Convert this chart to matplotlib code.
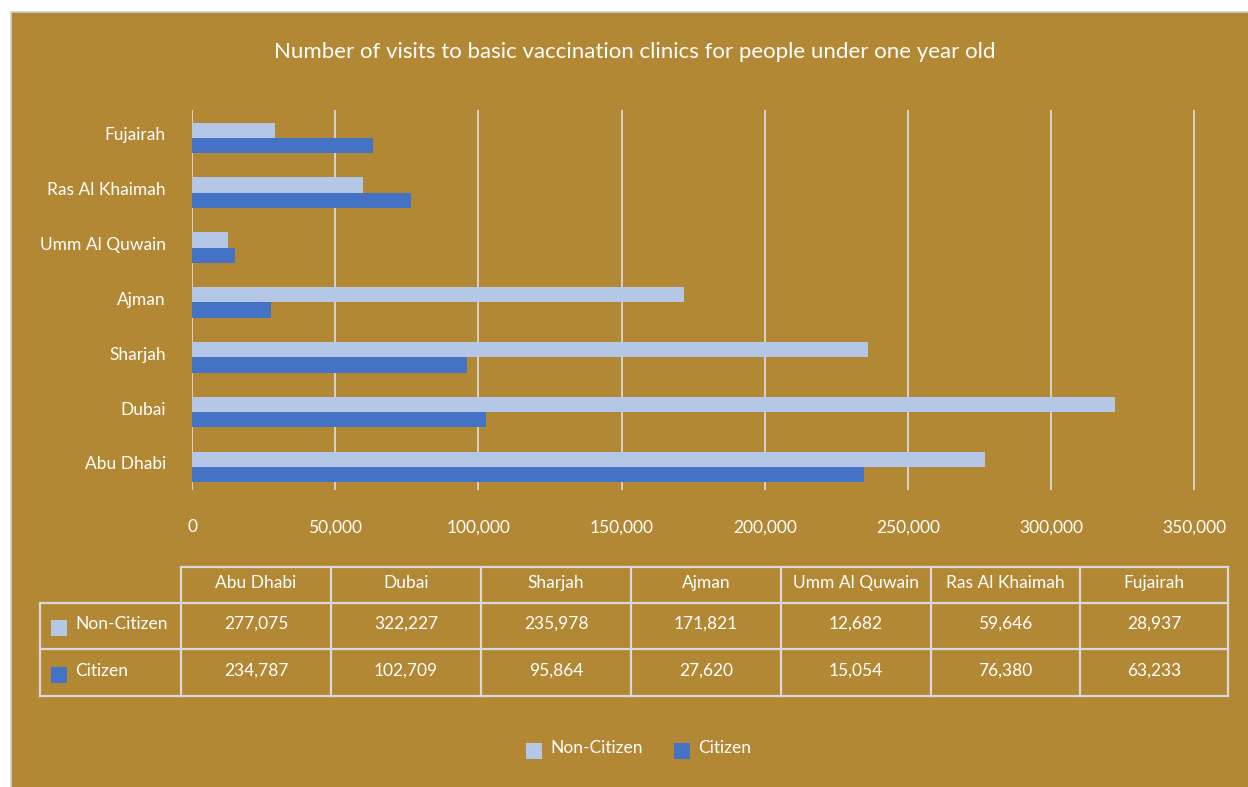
import matplotlib.pyplot as plt
from matplotlib.patches import Rectangle
import matplotlib.transforms as mtransforms
import numpy as np

plt.rcParams['font.family'] = ['Lato', 'DejaVu Sans']

# data
regions = ["Abu Dhabi", "Dubai", "Sharjah", "Ajman", "Umm Al Quwain", "Ras Al Khaimah", "Fujairah"]
non_citizen = [277075, 322227, 235978, 171821, 12682, 59646, 28937]
citizen = [234787, 102709, 95864, 27620, 15054, 76380, 63233]
series_names = ["Non-Citizen", "Citizen"]
x_ticks = [0, 50000, 100000, 150000, 200000, 250000, 300000, 350000]

bg = '#B38835'
c_light = '#B4C7E7'
c_dark = '#4472C4'
line_c = '#D9D9D9'
W, H = 1248, 787

fig = plt.figure(figsize=(W / 100, H / 100), dpi=100, facecolor='white')

# full-figure pixel axes for frame, table and legend
bgax = fig.add_axes([0, 0, 1, 1])
bgax.set_xlim(0, W)
bgax.set_ylim(H, 0)
bgax.axis('off')
bgax.add_patch(Rectangle((11, 12), W, H, facecolor=bg, edgecolor='#D0D0D0', lw=1.2))

bgax.text(635, 52, "Number of visits to basic vaccination clinics for people under one year old",
          ha='center', va='center', color='white', fontsize=16)

# bar chart
ax = fig.add_axes([192 / W, 1 - 490 / H, (1196 - 192) / W, (490 - 110) / H])
ax.set_facecolor('none')
y = np.arange(len(regions))
h = 0.28
ax.barh(y + h / 2, non_citizen, height=h, color=c_light, zorder=3)
ax.barh(y - h / 2, citizen, height=h, color=c_dark, zorder=3)
ax.set_ylim(-0.42, 6.51)
ax.set_xlim(0, 350600)
ax.set_xticks(x_ticks)
ax.set_xticklabels([f"{v:,}" for v in x_ticks], color='white', fontsize=12.5)
ax.set_yticks(y)
ax.set_yticklabels(regions, color='white', fontsize=12.5)
ax.tick_params(length=0, pad=26, axis='y')
ax.tick_params(length=0, pad=21, axis='x')
shift = mtransforms.ScaledTranslation(10 / 100, 4 / 100, fig.dpi_scale_trans)
for lab in ax.get_yticklabels():
    lab.set_transform(lab.get_transform() + shift)
ax.grid(axis='x', color=line_c, lw=1.3, zorder=0)
for s in ax.spines.values():
    s.set_visible(False)

# data table
col_x = [40, 181, 331, 481, 631, 781, 931, 1080, 1228]
row_y = [567, 603, 649, 696]
lw = 1.6
bgax.plot([col_x[1], col_x[-1]], [row_y[0], row_y[0]], color=line_c, lw=lw)
for yy in row_y[1:]:
    bgax.plot([col_x[0], col_x[-1]], [yy, yy], color=line_c, lw=lw)
bgax.plot([col_x[0], col_x[0]], [row_y[1], row_y[-1]], color=line_c, lw=lw)
for xx in col_x[1:]:
    bgax.plot([xx, xx], [row_y[0], row_y[-1]], color=line_c, lw=lw)
for i, r in enumerate(regions):
    bgax.text((col_x[i + 1] + col_x[i + 2]) / 2, (row_y[0] + row_y[1]) / 2 - 2, r,
              ha='center', va='center', color='white', fontsize=12.5)
rows = [non_citizen, citizen]
cols = [c_light, c_dark]
for j, (vals, name, c) in enumerate(zip(rows, series_names, cols)):
    yc = (row_y[j + 1] + row_y[j + 2]) / 2
    bgax.add_patch(Rectangle((51, yc - 6), 16, 16, facecolor=c, edgecolor='none'))
    bgax.text(75, yc - 2, name, ha='left', va='center', color='white', fontsize=12.5)
    for i, v in enumerate(vals):
        bgax.text((col_x[i + 1] + col_x[i + 2]) / 2, yc - 2, f"{v:,}",
                  ha='center', va='center', color='white', fontsize=12.5)

# legend
leg_y = 750
for name, c, lx in zip(series_names, cols, [526, 674]):
    bgax.add_patch(Rectangle((lx, leg_y - 7), 16, 16, facecolor=c, edgecolor='none'))
    bgax.text(lx + 24, leg_y - 2, name, ha='left', va='center', color='white', fontsize=12.5)

fig.savefig('out.png', dpi=100, facecolor='white')
